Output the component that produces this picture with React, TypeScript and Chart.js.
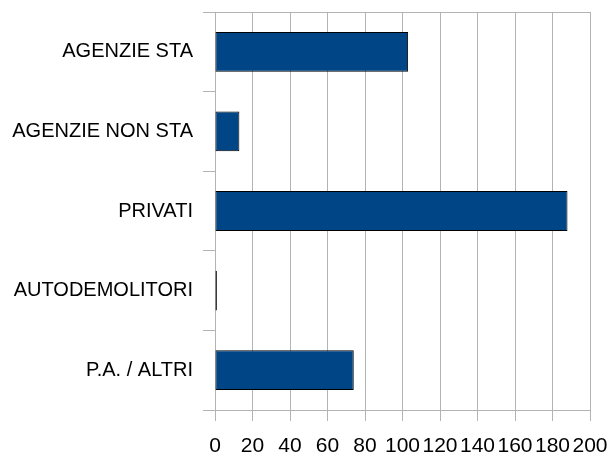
import React, { useEffect, useRef } from "react";
import { Chart, registerables } from "chart.js";

Chart.register(...registerables);

const categories = ["AGENZIE STA", "AGENZIE NON STA", "PRIVATI", "AUTODEMOLITORI", "P.A. / ALTRI"];
const values = [103, 13, 188, 1, 74];
const axisMin = 0;
const axisMax = 200;
const axisStep = 20;

const GRID = "#b3b3b3";
const FONT = "'Liberation Sans', Arial, sans-serif";

export default function App() {
  const ref = useRef<HTMLCanvasElement | null>(null);
  useEffect(() => {
    if (!ref.current) return;
    const chart = new Chart(ref.current, {
      type: "bar",
      data: {
        labels: categories,
        datasets: [
          {
            data: values,
            backgroundColor: "#004586",
            borderColor: "#000000",
            borderWidth: 1,
            borderSkipped: false,
            barPercentage: 0.5,
            categoryPercentage: 1,
          },
        ],
      },
      options: {
        indexAxis: "y",
        animation: false,
        responsive: true,
        maintainAspectRatio: false,
        layout: { padding: { top: 12, right: 20, left: 0, bottom: 0 } },
        plugins: { legend: { display: false }, tooltip: { enabled: false } },
        scales: {
          x: {
            min: axisMin,
            max: axisMax,
            ticks: { stepSize: axisStep, color: "#000", font: { family: FONT, size: 21 }, padding: 13, maxRotation: 0, autoSkip: false },
            grid: { color: GRID, tickLength: 11, tickColor: GRID },
            border: { color: GRID },
            afterFit: (s: any) => {
              s.height = 45;
              s.paddingLeft = 0;
              s.paddingRight = 0;
            },
          },
          y: {
            ticks: { color: "#000", font: { family: FONT, size: 20 }, padding: 10 },
            grid: {
              offset: true,
              tickLength: 12,
              tickColor: GRID,
              color: (ctx: any) => (ctx.index === 0 || ctx.type !== "tick" ? GRID : "rgba(0,0,0,0)"),
            },
            border: { color: GRID },
            afterFit: (s: any) => {
              s.width = 215;
              s.paddingTop = 0;
              s.paddingBottom = 0;
            },
          },
        },
      },
    });
    return () => chart.destroy();
  }, []);
  return (
    <div style={{ position: "fixed", left: 0, top: 0, width: 610, height: 455, background: "#fff" }}>
      <canvas ref={ref} />
    </div>
  );
}
